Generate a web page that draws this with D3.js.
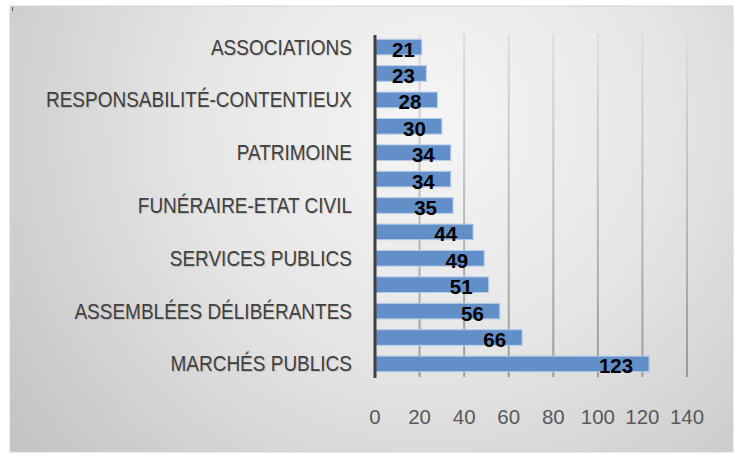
<!DOCTYPE html>
<html lang="fr">
<head>
<meta charset="UTF-8">
<title>Chart</title>
<style>
  body { margin: 0; background: #fff; }
  text { font-family: "Liberation Sans", Arial, sans-serif; }
</style>
</head>
<body>
<div id="container"></div>
<script src="https://cdn.jsdelivr.net/npm/d3@7"></script>
<script>
    // categories from top to bottom; null = label not shown on the axis
    const categories = [
        'ASSOCIATIONS', null, 'RESPONSABILITÉ-CONTENTIEUX', null, 'PATRIMOINE', null,
        'FUNÉRAIRE-ETAT CIVIL', null, 'SERVICES PUBLICS', null, 'ASSEMBLÉES DÉLIBÉRANTES', null,
        'MARCHÉS PUBLICS'
    ]
    const values = [21, 23, 28, 30, 34, 34, 35, 44, 49, 51, 56, 66, 123]
    const xTicks = [0, 20, 40, 60, 80, 100, 120, 140]

    const width = 737
    const height = 454
    const plot = {left: 375, right: 687, top: 34, bottom: 377}

    const svg = d3.select('#container').append('svg')
        .attr('width', width)
        .attr('height', height)

    const defs = svg.append('defs')
    const bg = defs.append('radialGradient')
        .attr('id', 'bg')
        .attr('gradientUnits', 'userSpaceOnUse')
        .attr('cx', 430).attr('cy', 120).attr('r', 520)
    bg.append('stop').attr('offset', 0).attr('stop-color', '#f5f5f5')
    bg.append('stop').attr('offset', 0.45).attr('stop-color', '#e6e6e6')
    bg.append('stop').attr('offset', 1).attr('stop-color', '#c4c4c4')

    const gridGrad = defs.append('linearGradient')
        .attr('id', 'grid')
        .attr('gradientUnits', 'userSpaceOnUse')
        .attr('x1', 0).attr('y1', plot.top).attr('x2', 0).attr('y2', plot.bottom)
    gridGrad.append('stop').attr('offset', 0).attr('stop-color', '#dedede')
    gridGrad.append('stop').attr('offset', 1).attr('stop-color', '#9a9a9a')

    // frame
    svg.append('rect')
        .attr('x', 10).attr('y', 6)
        .attr('width', 723).attr('height', 446)
        .attr('fill', 'url(#bg)')
        .attr('stroke', '#d4d4d4')
        .attr('stroke-width', 1)
    svg.append('line')
        .attr('x1', 12.5).attr('x2', 12.5).attr('y1', 7).attr('y2', 11)
        .attr('stroke', '#555').attr('stroke-width', 1)

    const x = d3.scaleLinear().domain([0, 140]).range([plot.left, plot.right])
    const y = d3.scaleBand().domain(d3.range(values.length))
        .range([plot.top, plot.bottom])
        .paddingInner(0.41).paddingOuter(0.2)

    // gridlines
    svg.append('g')
        .selectAll('line')
        .data(xTicks.slice(1))
        .enter()
        .append('line')
        .attr('x1', d => x(d)).attr('x2', d => x(d))
        .attr('y1', plot.top).attr('y2', plot.bottom)
        .attr('stroke', 'url(#grid)')
        .attr('stroke-width', 2)

    // bars
    svg.append('g')
        .selectAll('rect')
        .data(values)
        .enter()
        .append('rect')
        .attr('x', x(0))
        .attr('y', (d, i) => y(i))
        .attr('width', d => x(d) - x(0))
        .attr('height', y.bandwidth())
        .attr('fill', '#638fc9')
        .attr('stroke', '#b3cbe9')
        .attr('stroke-width', 1)

    // value axis labels
    svg.append('g')
        .selectAll('text')
        .data(xTicks)
        .enter()
        .append('text')
        .attr('x', d => x(d))
        .attr('y', 424)
        .attr('text-anchor', 'middle')
        .attr('font-size', '20.5px')
        .attr('fill', '#595959')
        .text(d => d)

    // category labels (slightly condensed, Calibri-like proportions)
    svg.append('g')
        .selectAll('text')
        .data(categories)
        .enter()
        .filter(d => d !== null)
        .append('text')
        .attr('transform', d => `translate(${plot.left - 23},${y(categories.indexOf(d)) + y.bandwidth() / 2 + 7.5}) scale(0.88,1)`)
        .attr('text-anchor', 'end')
        .attr('font-size', '21.6px')
        .attr('fill', '#404040')
        .attr('style', 'text-shadow: 1px 1px 1px rgba(0,0,0,0.15)')
        .text(d => d)

    // category axis line
    svg.append('line')
        .attr('x1', x(0)).attr('x2', x(0))
        .attr('y1', plot.top + 1).attr('y2', plot.bottom + 1)
        .attr('stroke', '#404040')
        .attr('stroke-width', 3)

    // data labels (inside end, but not closer than 17px to the axis)
    const labels = svg.append('g')
        .selectAll('text')
        .data(values)
        .enter()
        .append('text')
        .attr('y', (d, i) => y(i) + y.bandwidth() / 2 + 9.5)
        .attr('font-size', '20.5px')
        .attr('font-weight', 'bold')
        .attr('fill', '#000')
        .text(d => d)
    labels.each(function (d) {
        const w = this.getComputedTextLength()
        d3.select(this).attr('x', Math.max(x(d) - 16 - w, x(0) + 17))
    })
</script>
</body>
</html>
